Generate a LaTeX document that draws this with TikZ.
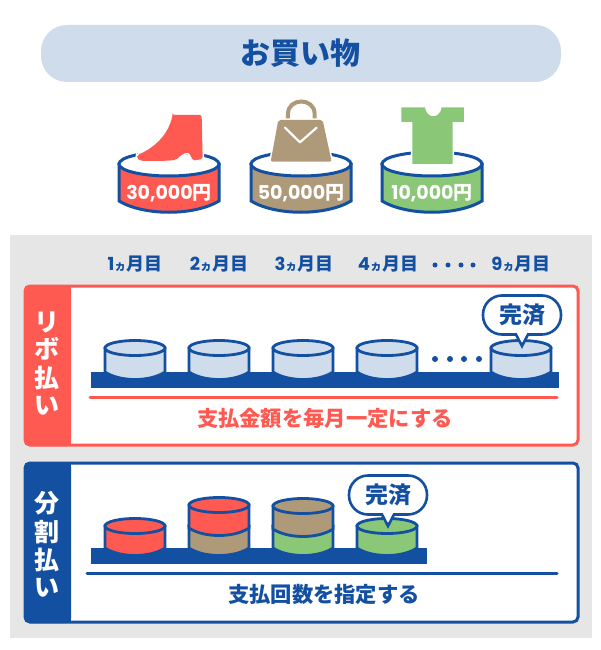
\documentclass[tikz,border=0pt]{standalone}
\usepackage{fontspec}
\setmainfont{Noto Sans CJK JP}
\newfontfamily\digitfont{Poppins}

\definecolor{payblue}{HTML}{1350A2}
\definecolor{payred}{HTML}{FF5A52}
\definecolor{paytan}{HTML}{AE9A78}
\definecolor{paygreen}{HTML}{8AC878}
\definecolor{paylight}{HTML}{CFDCEC}
\definecolor{paygray}{HTML}{E6E6E6}

\tikzset{
  drumline/.style={draw=payblue, line width=2.8pt},
  halo/.style={preaction={draw=white, line width=3pt}},
  panelhead/.style={font=\bfseries\fontsize{25}{25}\selectfont, text=white, inner sep=0pt},
  monthlabel/.style={font=\bfseries\fontsize{18}{18}\selectfont, text=payblue, inner sep=0pt},
  pricelabel/.style={font=\bfseries\fontsize{19}{19}\selectfont, text=white, inner sep=0pt},
  notelabel/.style={font=\bfseries\fontsize{23}{23}\selectfont, inner sep=0pt},
}

% x, top y, side height, fill
\newcommand{\drum}[4]{
  \begin{scope}[shift={(#1,#2)}]
    \filldraw[drumline, fill=#4] (-30,0) -- (-30,#3) .. controls (-15,#3+10) and (15,#3+10) .. (30,#3) -- (30,0) -- cycle;
    \filldraw[drumline, fill=#4] (0,0) ellipse [x radius=30pt, y radius=7.5pt];
  \end{scope}
}
% x, y, name
\newcommand{\donebubble}[3]{
  \begin{scope}[shift={(#1,#2)}]
    \filldraw[draw=payblue, line width=2.6pt, fill=white]
      (0,31) -- (-6,19.5) [rounded corners=19pt] -- (-39,19.5) -- (-39,-19.5) -- (39,-19.5) -- (39,19.5) [sharp corners] -- (6,19.5) -- cycle;
    \node[notelabel, text=payblue] (#3) at (0,0) {完済};
  \end{scope}
}

\begin{document}
\begin{tikzpicture}[x=1pt, y=-1pt]
\useasboundingbox (0,0) rectangle (600,650);
\fill[white] (0,0) rectangle (600,650);

% title
\fill[paylight, rounded corners=26pt] (41,25) rectangle (561,82);
\node[font=\bfseries\fontsize{30}{30}\selectfont, text=payblue, inner sep=0pt] (title) at (300,53) {お買い物};

% three priced drums
\foreach \x/\col/\price/\nm in {169/payred/30/boot, 301/paytan/50/bag, 432/paygreen/10/shirt} {
  \begin{scope}[shift={(\x,164)}]
    \filldraw[draw=payblue, line width=3pt, fill=\col] (-50,0) -- (-50,37) .. controls (-25,52) and (25,52) .. (50,37) -- (50,0) -- cycle;
    \filldraw[draw=payblue, line width=3pt, fill=white] (0,0) ellipse [x radius=50pt, y radius=12pt];
    \node[pricelabel] (price\nm) at (0,29) {\digitfont\price,000\normalfont\bfseries 円};
  \end{scope}
}

\begin{scope}[shift={(100,90)}, x=0.3333pt, y=-0.3333pt]
  \path[halo, fill=payred, rounded corners=2pt]
    (218,75) -- (305,75) -- (308,207) -- (278,212) -- (272,195)
    .. controls (262,185) and (250,190) .. (235,203)
    .. controls (225,212) and (200,213) .. (125,213)
    -- (110,205) -- (112,195) .. controls (170,170) and (205,130) .. (218,75) -- cycle;

  \draw[paytan, line width=4pt] (564,95) -- (564,72) .. controls (564,22) and (644,22) .. (644,72) -- (644,95);
  \path[halo, fill=paytan, rounded corners=2pt]
    (535,90) -- (668,90) -- (695,215) -- (512,215) -- cycle;
  \draw[white, line width=2.2pt, line cap=round, line join=round] (555,113) -- (600,157) -- (650,113);

  \path[halo, fill=paygreen]
    (904,52) -- (975,52) .. controls (980,88) and (1020,88) .. (1025,52) -- (1092,52)
    -- (1092,96) -- (1058,96) -- (1058,222) -- (937,222) -- (937,96) -- (904,96) -- cycle;
\end{scope}

% gray area
\fill[paygray] (10,235) rectangle (592,638);

\foreach \n/\x in {1/135,2/219,3/304,4/388,9/521} {
  \node[monthlabel] (month\n) at (\x,264) {{\digitfont\n}{\fontsize{12}{12}\selectfont ヵ}月目};
}
\foreach \x in {435,448,461,473} {
  \fill[payblue] (\x,265) circle (2.5pt);
}

% revolving panel
\filldraw[draw=payred, line width=3pt, fill=white, rounded corners=5pt] (25,286) rectangle (578,445);
\fill[payred, rounded corners=5pt] (24,285) rectangle (71,446);
\fill[payred] (50,285) rectangle (71,446);
\foreach \ch/\y/\nm in {リ/322/a, ボ/349/b, 払/378/c, い/406/d} {
  \node[panelhead] (revo\nm) at (47,\y) {\ch};
}

\fill[payblue] (91,372) rectangle (559,388);
\foreach \x in {135,219,303,387,521} {
  \drum{\x}{348}{24}{paylight}
}
\foreach \x in {435,450,464,479} {
  \fill[payblue] (\x,359) circle (3pt);
}
\donebubble{522}{315}{donerevo}
\draw[payred, line width=3pt, line cap=round] (90,397) -- (557,397);
\node[font=\bfseries\fontsize{21.3}{22}\selectfont, text=payred, inner sep=0pt] (noterevo) at (325,418) {支払金額を毎月一定にする};

% instalment panel
\filldraw[draw=payblue, line width=3pt, fill=white, rounded corners=5pt] (25,463) rectangle (578,622);
\fill[payblue, rounded corners=5pt] (24,462) rectangle (71,623);
\fill[payblue] (50,462) rectangle (71,623);
\foreach \ch/\y/\nm in {分/503/a, 割/532/b, 払/560/c, い/588/d} {
  \node[panelhead] (inst\nm) at (47,\y) {\ch};
}

\fill[payblue] (91,548) rectangle (427,564);
\drum{135}{526}{22}{payred}
\drum{219}{526}{22}{paytan}
\drum{219}{505}{23}{payred}
\drum{303}{526}{22}{paygreen}
\drum{303}{506}{23}{paytan}
\drum{387}{526}{22}{paygreen}
\donebubble{388}{495}{doneinst}
\draw[payblue, line width=3pt, line cap=round] (87,573) -- (557,573);
\node[font=\bfseries\fontsize{21.3}{22}\selectfont, text=payblue, inner sep=0pt] (noteinst) at (324,594) {支払回数を指定する};
\end{tikzpicture}
\end{document}
